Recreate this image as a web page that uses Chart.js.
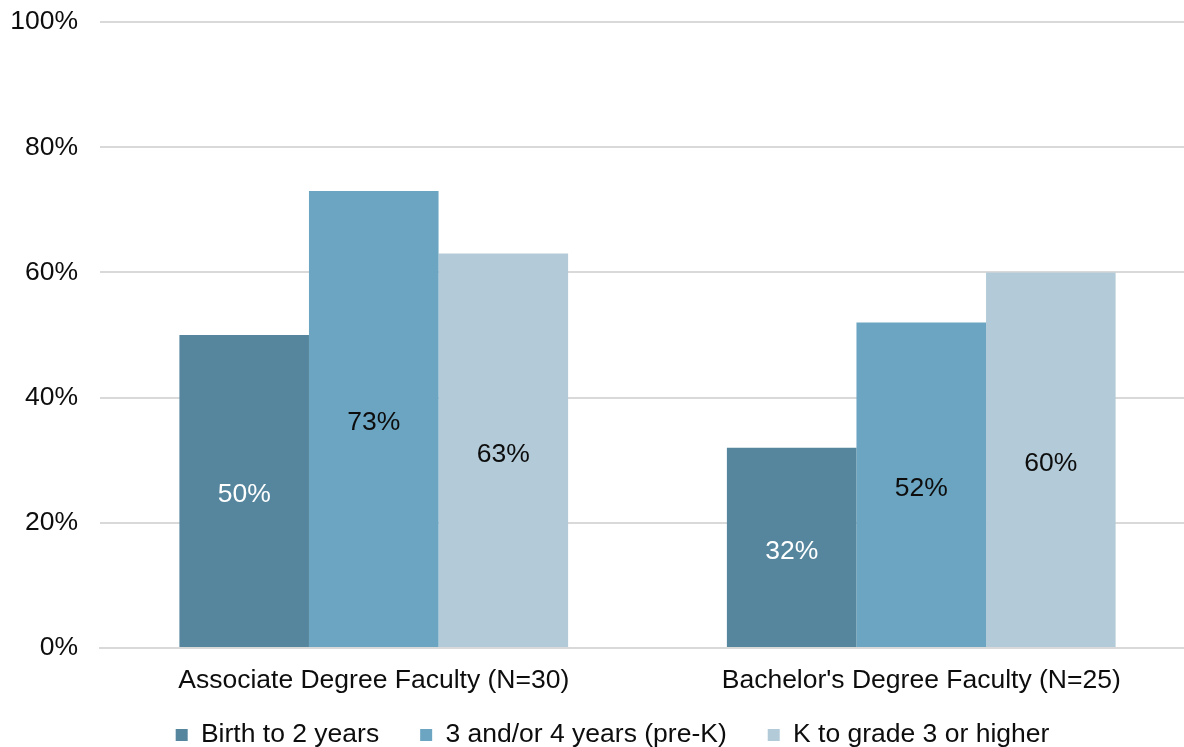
<!DOCTYPE html>
<html lang="en">
<head>
  <meta charset="UTF-8" />
  <title>Faculty chart</title>
  <script src="https://cdn.jsdelivr.net/npm/chart.js@4.4.1/dist/chart.umd.min.js"></script>
  <style>
    html, body { margin: 0; padding: 0; background: #fff; overflow: hidden; }
    /* plot runs slightly past the right edge in the original, so the canvas is a bit wider than the window */
    #wrap { width: 1195px; height: 747px; }
  </style>
</head>
<body>
  <div id="wrap"><canvas id="barChart"></canvas></div>
<script>
  const categories = ["Associate Degree Faculty (N=30)", "Bachelor's Degree Faculty (N=25)"];
  const seriesNames = ["Birth to 2 years", "3 and/or 4 years (pre-K)", "K to grade 3 or higher"];
  const birthTo2 = [50, 32];
  const preK = [73, 52];
  const kTo3 = [63, 60];
  const tickValues = [0, 20, 40, 60, 80, 100];

  const colors = ['#55869d', '#6ba5c2', '#b3cbd8'];
  const labelColors = ['#ffffff', '#0d0d0d', '#0d0d0d'];
  const fontFamily = '"Liberation Sans", Arial, sans-serif';

  // labels drawn in the middle of each bar, like Excel's "center" option
  const centerLabels = {
    id: 'centerLabels',
    afterDatasetsDraw(chart) {
      const ctx = chart.ctx;
      ctx.save();
      ctx.font = '26.5px ' + fontFamily;
      ctx.textAlign = 'center';
      ctx.textBaseline = 'middle';
      chart.data.datasets.forEach(function(ds, i) {
        chart.getDatasetMeta(i).data.forEach(function(bar, j) {
          ctx.fillStyle = labelColors[i];
          ctx.fillText(ds.data[j] + '%', bar.x, (bar.y + bar.base) / 2 + 4);
        });
      });
      ctx.restore();
    }
  };

  // nudge the legend so it sits where Excel put it (wide item spacing, close under the axis)
  const legendNudge = {
    id: 'legendNudge',
    afterLayout(chart) {
      const lg = chart.legend;
      lg.left += 15; lg.right += 15;
      lg.top -= 33; lg.bottom -= 33;
    }
  };

  new Chart("barChart", {
    type: 'bar',
    data: {
      labels: categories,
      datasets: [
        { label: seriesNames[0], data: birthTo2, backgroundColor: colors[0] },
        { label: seriesNames[1], data: preK, backgroundColor: colors[1] },
        { label: seriesNames[2], data: kTo3, backgroundColor: colors[2] }
      ]
    },
    options: {
      responsive: true,
      maintainAspectRatio: false,
      animation: false,
      layout: { padding: { top: 22, right: 0, left: 0, bottom: -44.3 } },
      datasets: { bar: { categoryPercentage: 0.71, barPercentage: 1.0 } },
      plugins: {
        tooltip: { enabled: false },
        legend: {
          position: 'bottom',
          labels: {
            color: '#0d0d0d',
            font: { size: 26.5, family: fontFamily },
            boxWidth: 12,
            boxHeight: 12,
            padding: 41
          }
        }
      },
      scales: {
        x: {
          grid: { display: false, drawTicks: false },
          border: { color: '#d9d9d9', width: 2 },
          ticks: {
            color: '#0d0d0d',
            padding: 17,
            font: { size: 26.5, family: fontFamily }
          }
        },
        y: {
          min: 0,
          max: 100,
          afterFit: function(scale) { scale.width = 100; },
          afterBuildTicks: function(scale) {
            scale.ticks = tickValues.map(function(v) { return { value: v }; });
          },
          // invisible tick marks give the gap between labels and plot
          grid: { color: '#d9d9d9', lineWidth: 2, drawTicks: true, tickLength: 22, tickColor: 'rgba(0,0,0,0)' },
          border: { display: false },
          ticks: {
            color: '#0d0d0d',
            padding: 0,
            font: { size: 26.5, family: fontFamily },
            callback: function(v) { return v + '%'; }
          }
        }
      }
    },
    plugins: [centerLabels, legendNudge]
  });
</script>
</body>
</html>
